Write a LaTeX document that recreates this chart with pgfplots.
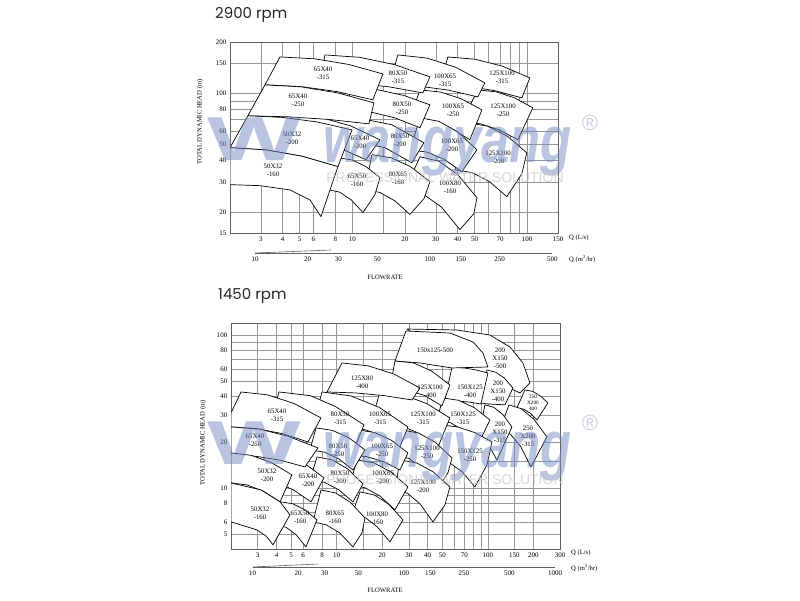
\documentclass[border=0pt]{standalone}
\usepackage{pgfplots}
\pgfplotsset{compat=1.18}
\usepackage{fontspec}
\setmainfont{Liberation Serif}
\newfontfamily\titlefont{Poppins}
\newfontfamily\wmfont{Liberation Sans}
\definecolor{wm}{RGB}{115,138,192}
\definecolor{gridc}{RGB}{150,150,150}
\definecolor{framec}{RGB}{95,95,95}
\tikzset{
  pumptile/.style={draw=black, line width=0.7pt, fill=white, line join=round},
  tlab/.style={font=\fontsize{6.8}{7.8}\selectfont, align=center, inner sep=0pt},
  slab/.style={font=\fontsize{5.2}{6.2}\selectfont, align=center, inner sep=0pt},
  txt/.style={font=\fontsize{6.6}{7.5}\selectfont, inner sep=0pt}
}
\newcommand\tileplot[1]{\addplot[pumptile] coordinates {#1} -- cycle;}
\begin{document}
\begin{tikzpicture}
\useasboundingbox (0,0) rectangle (800pt,600pt);

% ================= 2900 rpm =================
\begin{axis}[scale only axis, anchor=south west, at={(230pt,367pt)}, width=328pt, height=191pt,
  xmode=log, ymode=log, grid=both,
  major grid style={gridc, line width=0.45pt}, minor grid style={gridc, line width=0.45pt},
  major tick length=0pt, minor tick length=0pt,
  axis line style={framec, line width=0.6pt},
  ticklabel style={font=\fontsize{7}{8}\selectfont},
  xmin=2, xmax=150, ymin=15, ymax=200,
  xtick={3,4,5,6,8,10,20,30,40,50,70,100,150},
  xticklabels={3,4,5,6,8,10,20,30,40,50,70,100,150},
  minor xtick={15,60,80,90},
  ytick={15,20,30,40,50,60,80,100,150,200},
  yticklabels={15,20,30,40,50,60,80,100,150,200},
  minor ytick={70,90}]
% 125X100
\tileplot{(35.2,163.3) (50.4,158.3) (72.3,144.0) (103.5,122.9) (93.2,93.8) (65.1,103.4) (45.4,109.7) (31.7,111.8)}
\tileplot{(52.2,104.5) (66.4,101.7) (84.6,93.8) (107.7,81.9) (88.4,53.1) (69.1,60.8) (54.1,65.9) (42.3,67.8)}
\tileplot{(45.8,66.8) (59.3,63.9) (76.8,55.9) (99.5,44.5) (93.2,33.5) (76.5,24.56) (60.9,30.09) (48.5,34.0) (38.59,35.4)}
% 100X65 / 100X80
\tileplot{(18.2,167.8) (26.7,160.9) (39.1,141.8) (57.3,114.8) (52.2,95.0) (35.5,104.1) (24.1,109.8) (16.4,111.8)}
\tileplot{(24.4,104.5) (32.0,101.4) (41.9,92.6) (55.1,79.7) (47.0,53.1) (36.1,62.7) (27.8,69.2) (21.4,71.5)}
\tileplot{(24.4,71.5) (31.3,68.2) (40.1,59.0) (51.6,46.4) (42.3,34.45) (33.7,40.6) (26.8,44.9) (21.4,46.4)}
\tileplot{(24.4,42.2) (31.3,39.7) (40.1,33.1) (51.6,24.2) (49.55,19.5) (41.2,15.7) (32.4,21.3) (25.4,25.4) (20.0,27.0)}
% 80X50 / 80X65
\tileplot{(6.98,167.8) (11.06,162.4) (17.53,146.9) (27.8,124.6) (25.3,100.3) (16.1,109.0) (10.3,114.5) (6.54,116.4)}
\tileplot{(9.96,107.3) (14.0,104.6) (19.7,96.9) (27.8,85.3) (24.4,62.5) (17.5,71.5) (12.6,77.6) (9.08,79.7)}
\tileplot{(7.66,73.5) (11.36,70.6) (16.85,65.1) (25.66,51.0) (21.9,38.9) (15.37,47.7) (10.64,51.7) (7.46,53.1)}
\tileplot{(12.96,43.4) (16.7,41.6) (21.5,36.9) (27.8,30.1) (25.7,23.9) (21.35,19.3) (17.53,23.2) (14.39,26.0) (11.81,27.0)}
% 65X40-200 / 65X50-160
\tileplot{(4.52,74.5) (6.65,71.7) (9.79,64.1) (14.39,53.1) (11.97,40.5) (8.39,47.7) (5.88,51.5) (4.12,53.1)}
\tileplot{(8.28,41.6) (9.96,40.4) (11.97,36.9) (14.4,31.8) (13.47,25.2) (11.51,19.8) (9.87,23.5) (8.47,26.1) (7.27,27.0)}
% 65X40-315 / -250
\tileplot{(3.86,163.3) (6.10,159.2) (9.53,147.5) (14.97,129.7) (13.1,91.3) (8.17,102.1) (5.09,109.2) (3.17,111.8)}
\tileplot{(3.17,111.8) (5.11,108.8) (8.25,100.3) (13.3,87.6) (12.45,65.9) (7.33,70.0) (4.31,72.5) (2.53,73.5)}
% 50X32
\tileplot{(2.53,73.5) (4.00,71.9) (6.31,67.6) (9.96,60.7) (8.28,36.86) (5.15,42.5) (3.21,46.3) (2.0,47.7)}
\tileplot{(2.0,47.7) (3.21,46.3) (5.15,42.5) (8.28,36.9) (6.62,18.74) (5.73,23.5) (4.40,26.9) (2.97,28.5) (2.0,28.9)}
\end{axis}

\begin{axis}[scale only axis, anchor=south west, at={(255pt,347pt)}, width=297.3pt, height=10pt,
  xmode=log, xmin=10, xmax=500, ymin=0, ymax=1,
  axis x line=bottom, axis y line=none, axis line style={-, framec, line width=0.6pt},
  xminorticks=false, major tick length=0pt,
  ticklabel style={font=\fontsize{7}{8}\selectfont},
  xtick={10,20,30,50,100,150,250,500},
  xticklabels={10,20,30,50,100,150,250,500}]
\draw[framec, line width=0.6pt] (axis cs:10,0) -- ++(0,3pt);
\draw[framec, line width=0.6pt] (axis cs:500,0) -- ++(0,3pt);
\end{axis}

% ================= 1450 rpm =================
\begin{axis}[scale only axis, anchor=south west, at={(231pt,51pt)}, width=329pt, height=226pt,
  xmode=log, ymode=log, grid=both,
  major grid style={gridc, line width=0.45pt}, minor grid style={gridc, line width=0.45pt},
  major tick length=0pt, minor tick length=0pt,
  axis line style={framec, line width=0.6pt},
  ticklabel style={font=\fontsize{7}{8}\selectfont},
  xmin=2, xmax=300, ymin=4, ymax=120,
  xtick={3,4,5,6,8,10,20,30,40,50,70,100,150,200,300},
  xticklabels={3,4,5,6,8,10,20,30,40,50,70,100,150,200,300},
  minor xtick={15,60,80,90},
  ytick={5,6,8,10,20,30,40,50,60,80,100},
  yticklabels={5,6,8,10,20,30,40,50,60,80,100},
  minor ytick={7,9,15,70,90}]
% 200X150-500
\tileplot{(29.2,109.6) (62.4,108.0) (103.2,100.1) (140.0,83.6) (170.6,65.75) (189.8,48.67) (163.0,41.87) (111.4,50.2) (76.1,57.4)}
% 250X200
\tileplot{(175.8,43.8) (197.8,42.9) (222.0,40.1) (249.6,36.03) (211.1,27.9) (190.6,30.9) (172.5,32.8) (155.7,33.4)}
\tileplot{(137.8,35.0) (165.5,33.1) (201.6,28.2) (245.8,21.6) (192.7,13.76) (164.7,18.76) (140.6,22.56) (120.2,24.0)}
% 200X150
\tileplot{(98.6,59.2) (112.6,57.2) (128.3,52.47) (146.5,45.14) (129.7,35.0) (114.0,35.27) (100.1,35.5) (88.6,36.03)}
\tileplot{(95.6,35.0) (109.7,33.7) (125.8,30.2) (144.3,25.1) (114.8,15.28) (104.3,18.06) (94.6,19.98) (86.0,20.65)}
% 150X125
\tileplot{(57.9,61.9) (69.5,61.0) (83.39,59.2) (100.1,56.57) (89.99,35.5) (73.8,36.6) (61.5,37.1) (52.0,37.7)}
\tileplot{(50.45,38.84) (64.1,37.5) (81.3,33.57) (103.2,27.9) (86.0,19.15) (69.8,23.64) (56.7,26.75) (46.0,27.9)}
\tileplot{(48.2,25.9) (62.7,25.15) (81.8,23.08) (106.4,20.04) (98.6,14.18) (82.1,10.18) (67.7,12.76) (55.9,14.61) (46.0,15.28)}
% 150x125-500
\tileplot{(28.72,106.4) (56.1,103.2) (79.7,90.2) (92.8,76.42) (100.1,61.9) (57.9,61.0) (35.5,65.75) (24.3,67.7)}
% 125X100
\tileplot{(24.3,67.7) (32.1,65.9) (42.5,58.2) (56.1,47.2) (49.7,34.44) (38.2,40.26) (29.3,43.86) (22.5,45.14)}
\tileplot{(19.33,42.5) (27.6,40.7) (39.4,35.7) (56.1,28.75) (46.8,18.59) (33.45,23.29) (23.9,26.67) (17.1,27.9)}
\tileplot{(27.0,24.0) (34.8,22.9) (44.9,19.95) (57.9,15.75) (54.4,12.57) (46.8,10.03) (37.6,13.25) (30.2,15.61) (24.3,16.48)}
\tileplot{(26.2,15.28) (33.8,14.61) (43.5,12.76) (56.1,10.18) (52.0,7.77) (43.3,6.02) (35.7,7.86) (29.5,9.24) (24.3,9.73)}
% 125X80-400
\tileplot{(10.84,65.75) (16.11,63.0) (23.9,55.7) (35.5,45.14) (31.5,37.7) (20.45,40.26) (13.26,41.9) (8.63,42.5)}
% 100X65 / 100X80
\tileplot{(7.99,42.5) (12.37,40.07) (19.13,33.7) (29.6,25.1) (26.2,18.59) (17.04,23.29) (11.06,26.67) (7.19,27.9)}
\tileplot{(13.83,24.0) (17.84,23.08) (22.96,20.58) (29.6,16.98) (26.2,13.15) (20.33,14.9) (15.79,16.06) (12.24,16.48)}
\tileplot{(13.63,15.28) (17.65,14.61) (22.86,12.76) (29.6,10.18) (24.3,7.21) (19.33,8.88) (15.38,10.06) (12.24,10.5)}
\tileplot{(14.26,9.45) (17.73,9.02) (22.08,7.85) (27.44,6.2) (22.51,4.45) (18.55,5.58) (15.55,6.39) (12.62,6.68)}
% 80X50 / 80X65
\tileplot{(4.15,42.5) (6.69,40.2) (9.85,34.08) (15.15,25.88) (12.81,17.24) (8.496,22.53) (5.63,26.43) (3.73,27.9)}
\tileplot{(7.296,24.74) (9.35,23.86) (12.0,21.38) (15.38,17.77) (12.81,13.15) (10.32,15.54) (8.28,17.19) (6.66,17.77)}
\tileplot{(7.41,15.99) (9.35,15.28) (11.82,13.35) (14.93,10.66) (12.81,8.13) (10.32,9.76) (8.28,10.92) (6.66,11.31)}
\tileplot{(7.873,9.73) (9.85,9.29) (12.3,8.08) (15.38,6.39) (14.70,5.10) (12.81,4.13) (10.47,5.10) (8.54,5.75) (6.97,6.02)}
% 65X40-200 / 65X50-160
\tileplot{(3.407,17.24) (4.57,16.5) (6.14,14.48) (8.24,11.66) (6.761,8.13) (5.16,9.76) (3.95,10.92) (3.02,11.31)}
\tileplot{(4.282,8.13) (5.14,7.89) (6.17,7.21) (7.41,6.20) (6.265,4.13) (5.38,4.97) (4.62,5.55) (3.968,5.75)}
% 65X40-315 / -250
\tileplot{(2.329,42.5) (3.496,40.7) (5.24,35.7) (7.873,28.75) (6.46,20.04) (4.37,22.7) (2.957,24.48) (2.0,25.12) (2.0,31.0)}
\tileplot{(2.0,25.12) (3.11,24.26) (4.76,21.83) (7.52,18.31) (6.17,13.76) (4.24,15.21) (2.91,16.16) (2.0,16.48)}
% 50X32
\tileplot{(2.0,16.98) (2.72,16.38) (3.72,14.65) (5.06,12.2) (4.22,8.13) (3.29,9.53) (2.56,10.48) (2.0,10.82)}
\tileplot{(2.0,10.82) (3.158,9.73) (4.22,8.13) (4.91,6.68) (3.79,4.26) (3.407,4.87) (2.971,5.33) (2.0,6.02)}
\end{axis}

\begin{axis}[scale only axis, anchor=south west, at={(252.6pt,33pt)}, width=302.4pt, height=10pt,
  xmode=log, xmin=10, xmax=1000, ymin=0, ymax=1,
  axis x line=bottom, axis y line=none, axis line style={-, framec, line width=0.6pt},
  xminorticks=false, major tick length=0pt,
  ticklabel style={font=\fontsize{7}{8}\selectfont},
  xtick={10,20,30,50,100,150,250,500,1000},
  xticklabels={10,20,30,50,100,150,250,500,1000}]
\draw[framec, line width=0.6pt] (axis cs:10,0) -- ++(0,3pt);
\draw[framec, line width=0.6pt] (axis cs:1000,0) -- ++(0,3pt);
\end{axis}

% ---------- tile labels, 2900 rpm ----------
\node[tlab] at (323pt,527pt) {65X40\\-315};
\node[tlab] at (398pt,523pt) {80X50\\-315};
\node[tlab] at (445pt,520pt) {100X65\\-315};
\node[tlab] at (502pt,523pt) {125X100\\-315};
\node[tlab] at (298pt,500pt) {65X40\\-250};
\node[tlab] at (402pt,492pt) {80X50\\-250};
\node[tlab] at (453pt,490pt) {100X65\\-250};
\node[tlab] at (503pt,490pt) {125X100\\-250};
\node[tlab] at (292pt,462pt) {50X32\\-200};
\node[tlab] at (360pt,458pt) {65X40\\-200};
\node[tlab] at (400pt,460pt) {80X50\\-200};
\node[tlab] at (452pt,455pt) {100X65\\-200};
\node[tlab] at (498pt,443pt) {125X100\\-200};
\node[tlab] at (273pt,430pt) {50X32\\-160};
\node[tlab] at (357pt,420pt) {65X50\\-160};
\node[tlab] at (398pt,422pt) {80X65\\-160};
\node[tlab] at (450pt,413pt) {100X80\\-160};

% ---------- tile labels, 1450 rpm ----------
\node[tlab] at (435pt,250pt) {150x125-500};
\node[tlab] at (500pt,242pt) {200\\X150\\-500};
\node[tlab] at (362pt,218pt) {125X80\\-400};
\node[tlab] at (430pt,209pt) {125X100\\-400};
\node[tlab] at (470pt,209pt) {150X125\\-400};
\node[tlab] at (498pt,209pt) {200\\X150\\-400};
\node[slab] at (533pt,197pt) {250\\X200\\400};
\node[tlab] at (277pt,185pt) {65X40\\-315};
\node[tlab] at (340pt,182pt) {80X50\\-315};
\node[tlab] at (380pt,182pt) {100X65\\-315};
\node[tlab] at (423pt,182pt) {125X100\\-315};
\node[tlab] at (463pt,182pt) {150X125\\-315};
\node[tlab] at (500pt,168pt) {200\\X150\\-315};
\node[tlab] at (528pt,164pt) {250\\X200\\-315};
\node[tlab] at (255pt,160pt) {65X40\\-250};
\node[tlab] at (338pt,150pt) {80X50\\-250};
\node[tlab] at (382pt,150pt) {100X65\\-250};
\node[tlab] at (427pt,148pt) {125X100\\-250};
\node[tlab] at (470pt,145pt) {150X125\\-250};
\node[tlab] at (267pt,125pt) {50X32\\-200};
\node[tlab] at (308pt,120pt) {65X40\\-200};
\node[tlab] at (340pt,123pt) {80X50\\-200};
\node[tlab] at (383pt,123pt) {100X65\\-200};
\node[tlab] at (423pt,114pt) {125X100\\-200};
\node[tlab] at (260pt,87pt) {50X32\\-160};
\node[tlab] at (300pt,83pt) {65X50\\-160};
\node[tlab] at (335pt,83pt) {80X65\\-160};
\node[tlab] at (377pt,82pt) {100X80\\-160};

% ---------- titles and axis texts ----------
\node[anchor=base west, inner sep=0pt, font=\titlefont\fontsize{15}{18}\selectfont, text=black!85] at (215pt,581.5pt) {2900 rpm};
\node[anchor=base west, inner sep=0pt, font=\titlefont\fontsize{15}{18}\selectfont, text=black!85] at (218pt,300pt) {1450 rpm};
\node[txt, rotate=90] at (200pt,478pt) {TOTAL DYNAMIC HEAD (m)};
\node[txt, rotate=90] at (203pt,157pt) {TOTAL DYNAMIC HEAD (m)};
\node[txt, anchor=west] at (569pt,362pt) {Q (L/s)};
\node[txt, anchor=west] at (569pt,341pt) {Q (m\textsuperscript{3}/hr)};
\node[txt] at (385pt,323pt) {FLOWRATE};
\node[txt, anchor=west] at (571pt,47pt) {Q (L/s)};
\node[txt, anchor=west] at (571pt,32pt) {Q (m\textsuperscript{3}/hr)};
\node[txt] at (385pt,10pt) {FLOWRATE};

% ---------- watermark ----------
\foreach \yb/\yp/\yr/\yw in {437/422/477/461, 133/120/177/157}{
  \node[anchor=base west, inner sep=0pt, xscale=0.77, opacity=0.5, text=wm,
        font=\wmfont\bfseries\itshape\fontsize{66}{70}\selectfont] at (323pt,\yb pt) {wangyang};
  \node[opacity=0.7, text=gray!45, font=\wmfont\fontsize{14}{16}\selectfont] at (445pt,\yp pt) {PROFESSIONAL WATER SOLUTION};
  \node[opacity=0.4, text=wm, font=\wmfont\fontsize{22}{24}\selectfont] at (590pt,\yr pt) {®};
  \node[opacity=0.5, text=wm, xscale=1.6, font=\wmfont\bfseries\fontsize{62}{62}\selectfont] at (254pt,\yw pt) {W};
}
\end{tikzpicture}
\end{document}
